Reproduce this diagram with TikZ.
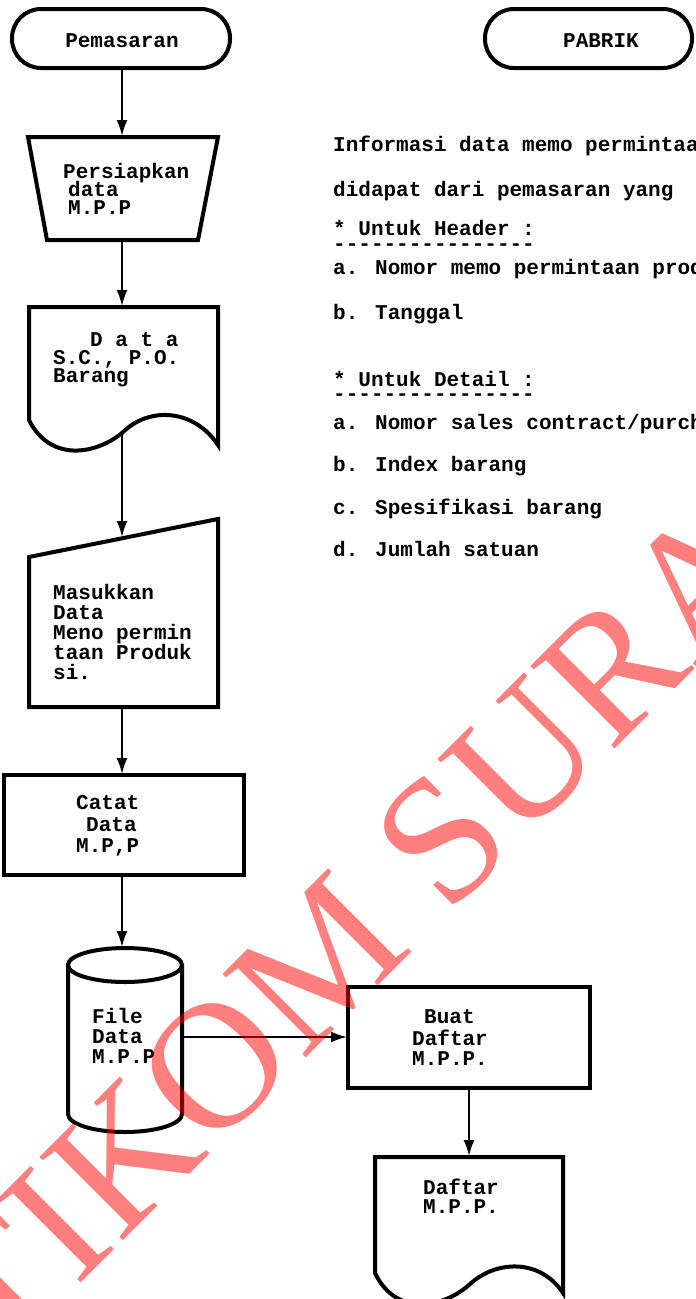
\documentclass[tikz,border=0pt]{standalone}
\usepackage{fontspec}
\usetikzlibrary{arrows.meta}
\newfontfamily\dmfont{Liberation Mono}
\newfontfamily\wmfont{Liberation Serif}
\begin{document}
\begin{tikzpicture}[x=1pt,y=-1pt,
  outl/.style={line width=4pt,line join=miter},
  arr/.style={line width=2pt,-{Latex[length=16pt,width=11pt]},shorten >=1pt},
  txt/.style={anchor=base west,inner sep=0pt,font=\dmfont\bfseries\fontsize{21}{21}\selectfont},
  ctxt/.style={txt,anchor=base},
  wm/.style={rotate=45,anchor=base west,inner sep=0pt,text=red,text opacity=0.5,
    font=\wmfont\fontsize{180}{180}\selectfont}]
\useasboundingbox (0,0) rectangle (696,1299);
\clip (0,0) rectangle (696,1299);
\fill[white] (0,0) rectangle (696,1299);

% ---------- shapes ----------
% Pemasaran terminator
\draw[outl,rounded corners=29pt] (12,9) rectangle (230,68);
% PABRIK terminator
\draw[outl,rounded corners=29pt] (485,9) rectangle (692,68);
% manual operation
\draw[outl] (28,137) -- (218,137) -- (198,240) -- (47,240) -- cycle;
% document 1
\draw[outl] (29,420) -- (29,307) -- (218,307) -- (218,445)
  .. controls (195,410) and (150,405) .. (122,433)
  .. controls (95,455) and (50,462) .. (29,420) -- cycle;
% manual input
\draw[outl] (29,557) -- (218,519) -- (218,707) -- (29,707) -- cycle;
% Catat process
\draw[outl] (4,775) rectangle (244,875);
% cylinder
\draw[outl] (68,965) -- (68,1114) arc[start angle=180,end angle=360,x radius=57pt,y radius=18pt] -- (182,965);
\draw[outl] (125,965) ellipse [x radius=57pt,y radius=17pt];
% Buat Daftar process
\draw[outl] (348,987) rectangle (590,1088);
% document 2
\draw[outl] (375,1273) -- (375,1157) -- (563,1157) -- (563,1293)
  .. controls (540,1258) and (495,1260) .. (469,1285)
  .. controls (440,1310) and (395,1315) .. (375,1273) -- cycle;

% ---------- connector ends ----------
\coordinate (pem-s) at (122,68);
\coordinate (pers-n) at (122,137);
\coordinate (pers-s) at (122,240);
\coordinate (doc1-n) at (122,307);
\coordinate (doc1-s) at (122,433);
\coordinate (inp-n) at (122,538);
\coordinate (inp-s) at (122,707);
\coordinate (cat-n) at (122,775);
\coordinate (cat-s) at (122,875);
\coordinate (cyl-n) at (122,948);
\coordinate (cyl-e) at (182,1037);
\coordinate (buat-w) at (348,1037);
\coordinate (buat-s) at (469,1088);
\coordinate (doc2-n) at (469,1157);

\draw[arr] (pem-s) -- (pers-n);
\draw[arr] (pers-s) -- (doc1-n);
\draw[arr] (doc1-s) -- (inp-n);
\draw[arr] (inp-s) -- (cat-n);
\draw[arr] (cat-s) -- (cyl-n);
\draw[arr] (cyl-e) -- (buat-w);
\draw[arr] (buat-s) -- (doc2-n);

% ---------- texts ----------
\node[ctxt] (t-pem) at (122,47) {Pemasaran};
\node[ctxt] (t-pab) at (601,47) {PABRIK};

\node[txt] (t-pers1) at (63,178) {Persiapkan};
\node[txt] (t-pers2) at (68,196) {data};
\node[txt] (t-pers3) at (68,214) {M.P.P};

\node[txt] (t-doc1a) at (90,346) {D a t a};
\node[txt] (t-doc1b) at (53,364) {S.C., P.O.};
\node[txt] (t-doc1c) at (53,382) {Barang};

\node[txt] (t-inp1) at (53,599) {Masukkan};
\node[txt] (t-inp2) at (53,619) {Data};
\node[txt] (t-inp3) at (53,639) {Meno permin};
\node[txt] (t-inp4) at (53,659) {taan Produk};
\node[txt] (t-inp5) at (53,679) {si.};

\node[txt] (t-cat1) at (76,809) {Catat};
\node[txt] (t-cat2) at (86,831) {Data};
\node[txt] (t-cat3) at (76,852) {M.P,P};

\node[txt] (t-cyl1) at (92,1023) {File};
\node[txt] (t-cyl2) at (92,1043) {Data};
\node[txt] (t-cyl3) at (92,1063) {M.P.P};

\node[txt] (t-buat1) at (424,1023) {Buat};
\node[txt] (t-buat2) at (412,1045) {Daftar};
\node[txt] (t-buat3) at (412,1065) {M.P.P.};

\node[txt] (t-doc2a) at (423,1194) {Daftar};
\node[txt] (t-doc2b) at (423,1213) {M.P.P.};

\node[txt] (r1) at (333,151) {Informasi data memo permintaa};
\node[txt] (r2) at (333,196) {didapat dari pemasaran yang};
\node[txt] (r3) at (333,235) {* Untuk Header :};
\node[txt] (r3d) at (333,250) {----------------};
\node[txt] (r4) at (333,274) {a. Nomor memo permintaan prod};
\node[txt] (r5) at (333,319) {b. Tanggal};
\node[txt] (r6) at (333,386) {* Untuk Detail :};
\node[txt] (r6d) at (333,400) {----------------};
\node[txt] (r7) at (333,429) {a. Nomor sales contract/purch};
\node[txt] (r8) at (333,471) {b. Index barang};
\node[txt] (r9) at (333,514) {c. Spesifikasi barang};
\node[txt] (r10) at (333,556) {d. Jumlah satuan};

% ---------- watermark ----------
\node[wm] (wmark) at (-72,1436) {STIKOM SURABAYA};
\end{tikzpicture}
\end{document}
